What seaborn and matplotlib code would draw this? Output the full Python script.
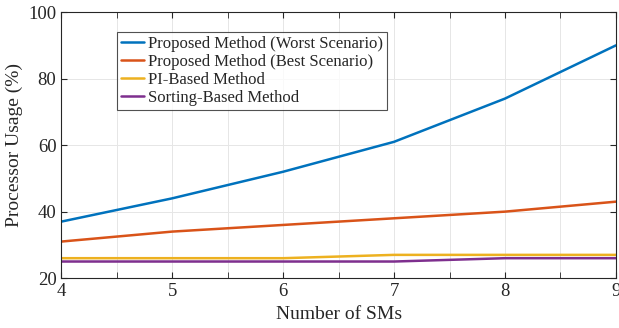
import numpy as np
import pandas as pd
import matplotlib
matplotlib.use('Agg')
import matplotlib.pyplot as plt
from matplotlib.ticker import MultipleLocator
import seaborn as sns

# data
sms = [4, 5, 6, 7, 8, 9]
worst = [37, 44, 52, 61, 74, 90]
best = [31, 34, 36, 38, 40, 43]
pi_based = [26, 26, 26, 27, 27, 27]
sorting = [25, 25, 25, 25, 26, 26]

names = ["Proposed Method (Worst Scenario)", "Proposed Method (Best Scenario)",
         "PI-Based Method", "Sorting-Based Method"]
colors = ["#0072BD", "#D95319", "#EDB120", "#7E2F8E"]

df = pd.DataFrame({"sms": sms, names[0]: worst, names[1]: best,
                   names[2]: pi_based, names[3]: sorting})
long = df.melt(id_vars="sms", var_name="method", value_name="usage")

sns.set_style("ticks")
plt.rcParams['font.family'] = ['Liberation Serif', 'DejaVu Serif']

fig, ax = plt.subplots(figsize=(6.19, 3.28), dpi=100)
sns.lineplot(data=long, x="sms", y="usage", hue="method", hue_order=names,
             palette=colors, linewidth=1.8, ax=ax)

ax.set_xlim(4, 9)
ax.set_ylim(20, 100)
ax.xaxis.set_major_locator(MultipleLocator(1))
ax.xaxis.set_minor_locator(MultipleLocator(0.5))
ax.yaxis.set_major_locator(MultipleLocator(20))
ax.grid(True, which='both', axis='x', color='#e6e6e6', linewidth=0.7)
ax.grid(True, which='major', axis='y', color='#e6e6e6', linewidth=0.7)
ax.set_axisbelow(True)
for s in ax.spines.values():
    s.set_visible(True)
    s.set_color('#262626')
    s.set_linewidth(0.8)
ax.tick_params(which='both', direction='in', top=True, right=True,
               labelsize=13.5, colors='#262626', length=4)
ax.tick_params(which='minor', length=4)
ax.set_xlabel("Number of SMs", fontsize=14, labelpad=4)
ax.set_ylabel("Processor Usage (%)", fontsize=14, labelpad=4)

leg = ax.legend(loc='upper left', bbox_to_anchor=(0.1, 0.925), fontsize=12,
                frameon=True, fancybox=False, handlelength=1.4,
                handletextpad=0.2, borderpad=0.25, labelspacing=0.12,
                borderaxespad=0)
leg.get_frame().set_edgecolor('#262626')
leg.get_frame().set_linewidth(0.8)

fig.subplots_adjust(left=0.099, right=0.995, top=0.963, bottom=0.152)
fig.savefig("out.png", dpi=100)
